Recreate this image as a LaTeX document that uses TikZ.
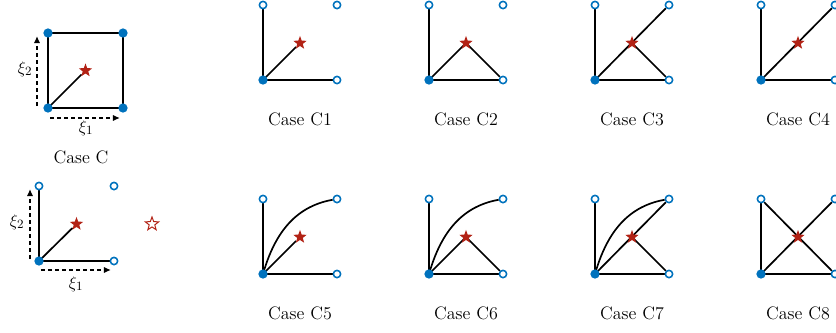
\documentclass[tikz,border=0pt]{standalone}
\usepackage{amsmath, amssymb}
\usepackage{tikz}
\usetikzlibrary{arrows.meta, positioning, shapes.geometric, backgrounds}
\usepackage{xcolor}
\definecolor{dotblue}{HTML}{0072BD}
\definecolor{starred}{HTML}{B22215}

\begin{document}
\begin{tikzpicture}[
    x=0.025cm, y=-0.025cm,
    fdot/.style={circle, fill=dotblue, inner sep=0pt, minimum size=6.6pt},
    odot/.style={circle, draw=dotblue, fill=white, line width=1.1pt,
                 inner sep=0pt, minimum size=5.2pt},
    pt/.style={star, star points=5, star point ratio=2.4, fill=starred,
               inner sep=0pt, minimum size=10pt},
    hpt/.style={pt, fill=white, draw=starred, line width=0.7pt},
    edge/.style={line width=1.2pt, black},
    ax/.style={-{Latex[length=5pt, width=4.5pt]}, dash pattern=on 3pt off 2pt,
               line width=1.2pt},
    lbl/.style={font=\fontsize{12.8}{15}\selectfont}
  ]
    \useasboundingbox (0,0) rectangle (836,332);

    % Case C: full cell
    \node[fdot] (qbl) at (48,108) {};
    \node[fdot] (qtl) at (48,33) {};
    \node[fdot] (qtr) at (123,33) {};
    \node[fdot] (qbr) at (123,108) {};
    \node[pt] (qs) at (85.5,70.5) {};
    \coordinate (qx0) at (50,118);
    \coordinate (qx1) at (120,118);
    \coordinate (qy0) at (37,106);
    \coordinate (qy1) at (37,36);
    \draw[ax] (qx0) -- (qx1);
    \draw[ax] (qy0) -- (qy1);
    \node[lbl] (qxi1) at (86,128) {$\xi_1$};
    \node[lbl] (qxi2) at (25,69) {$\xi_2$};
    \node[lbl] (qlbl) at (81,157) {Case C};

    % reduced cell
    \node[fdot] (rbl) at (39,261) {};
    \node[odot] (rtl) at (39,186) {};
    \node[odot] (rtr) at (114,186) {};
    \node[odot] (rbr) at (114,261) {};
    \node[pt] (rs) at (76.5,224) {};
    \node[hpt] (rh) at (152,224) {};
    \coordinate (rx0) at (41,270);
    \coordinate (rx1) at (111,270);
    \coordinate (ry0) at (30,259);
    \coordinate (ry1) at (30,189);
    \draw[ax] (rx0) -- (rx1);
    \draw[ax] (ry0) -- (ry1);
    \node[lbl] (rxi1) at (76,284) {$\xi_1$};
    \node[lbl] (rxi2) at (17,222) {$\xi_2$};

    % cells of the cases C1--C8
    \foreach \n/\x/\y/\t in {a/263/80/C1, b/429/80/C2, c/595/80/C3, d/761/80/C4,
                             e/263/274/C5, f/429/274/C6, g/595/274/C7, h/761/274/C8} {
      \node[fdot] (\n bl) at (\x,\y) {};
      \node[odot] (\n tl) at (\x,\y-75) {};
      \node[odot] (\n tr) at (\x+74,\y-75) {};
      \node[odot] (\n br) at (\x+74,\y) {};
      \node[pt] (\n s) at (\x+37,\y-37) {};
      \node[lbl] (\n lbl) at (\x+37,\y+39) {Case \t};
    }

    \begin{pgfonlayer}{background}
      % Case C
      \draw[edge] (qbl.center) -- (qtl.center) -- (qtr.center) -- (qbr.center) -- cycle;
      \draw[edge] (qbl.center) -- (qs);
      % reduced cell
      \draw[edge] (rtl) -- (rbl.center) -- (rbr);
      \draw[edge] (rbl.center) -- (rs);
      % C1
      \draw[edge] (atl) -- (abl.center) -- (abr);
      \draw[edge] (abl.center) -- (as);
      % C2
      \draw[edge] (btl) -- (bbl.center) -- (bbr);
      \draw[edge] (bbl.center) -- (bs.center) -- (bbr);
      % C3
      \draw[edge] (ctl) -- (cbl.center) -- (cbr);
      \draw[edge] (cbl.center) -- (ctr);
      \draw[edge] (cs.center) -- (cbr);
      % C4
      \draw[edge] (dtl) -- (dbl.center) -- (dbr);
      \draw[edge] (dbl.center) -- (dtr);
      % C5
      \draw[edge] (etl) -- (ebl.center) -- (ebr);
      \draw[edge] (ebl.center) -- (es);
      \draw[edge] (ebl.center) to[out=74, in=190] (etr);
      % C6
      \draw[edge] (ftl) -- (fbl.center) -- (fbr);
      \draw[edge] (fbl.center) -- (fs.center) -- (fbr);
      \draw[edge] (fbl.center) to[out=74, in=190] (ftr);
      % C7
      \draw[edge] (gtl) -- (gbl.center) -- (gbr);
      \draw[edge] (gbl.center) -- (gtr);
      \draw[edge] (gs.center) -- (gbr);
      \draw[edge] (gbl.center) to[out=74, in=190] (gtr);
      % C8
      \draw[edge] (htl) -- (hbl.center) -- (hbr);
      \draw[edge] (hbl.center) -- (htr);
      \draw[edge] (htl) -- (hbr);
    \end{pgfonlayer}
  \end{tikzpicture}
\end{document}
